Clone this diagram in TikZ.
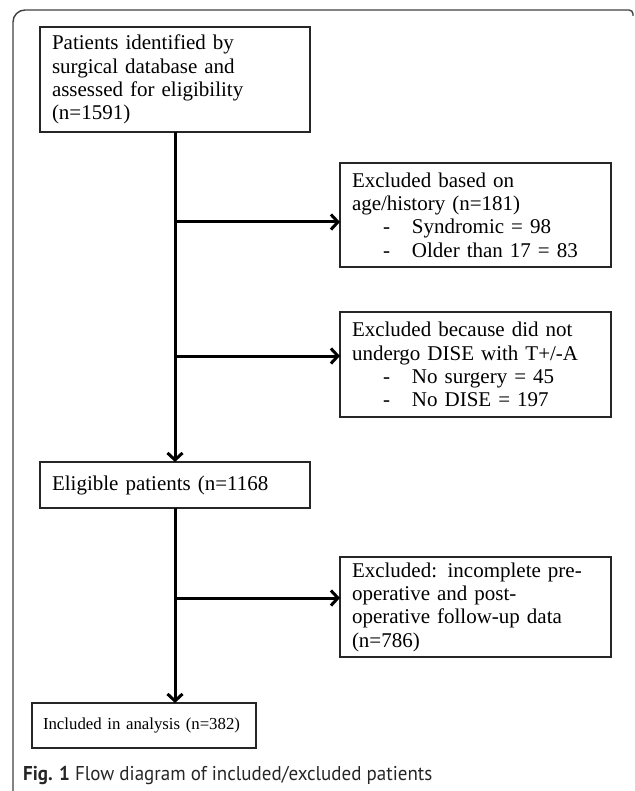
\documentclass[tikz,border=0pt]{standalone}
\usepackage{fontspec}
\setmainfont{Liberation Serif}
\newfontfamily\capfont[FakeStretch=0.95]{PT Sans}
\usetikzlibrary{arrows.meta}
\newcommand\bul[1]{\makebox[60pt][r]{-\hspace{22pt}}#1}
\begin{document}
\begin{tikzpicture}[x=1pt,y=-1pt,
  box/.style={draw=black!85, line width=1.4pt, anchor=north west, inner xsep=12pt,
    inner ysep=0pt, outer sep=0pt, align=left, font=\fontsize{21}{23.3}\selectfont},
  flow/.style={line width=3pt, -{Straight Barb[length=7pt,width=15pt]}},
  frame/.style={draw=black!75, line width=1.4pt}]
\useasboundingbox (0,0) rectangle (634,791);
\draw[frame] (13,791) [rounded corners=12pt] -- (13,10) [rounded corners=4pt] -- (633,10) -- (633,16);

\node[box, text width=246pt, minimum height=105pt] (b1) at (40,27)
  {Patients identified by\\ surgical database and\\ assessed for eligibility\\ (n=1591)};
\node[box, text width=247pt, minimum height=104pt] (b2) at (340,163)
  {Excluded based on\\ age/history (n=181)\\ \bul{Syndromic = 98}\\ \bul{Older than 17 = 83}};
\node[box, text width=247pt, minimum height=105pt] (b3) at (340,312)
  {Excluded because did not\\ undergo DISE with T+/-A\\ \bul{No surgery = 45}\\ \bul{No DISE = 197}};
\node[box, text width=246pt, minimum height=46pt] (b4) at (40,462)
  {Eligible patients (n=1168};
\node[box, text width=247pt, minimum height=100pt] (b5) at (340,557)
  {Excluded: incomplete pre-\\ operative and post-\\ operative follow-up data\\ (n=786)};
\node[box, inner xsep=11pt, text width=202pt, minimum height=45pt,
  font=\fontsize{16.8}{20}\selectfont] (b6) at (32,703)
  {\mbox{Included in analysis (n=382)}};

\coordinate (j1) at (175,222);
\coordinate (j2) at (175,356);
\coordinate (j3) at (175,598);
\draw[flow] (b1.south) -- (b4.north);
\draw[flow] (j1) -- (j1 -| b2.west);
\draw[flow] (j2) -- (j2 -| b3.west);
\draw[flow] (b4.south) -- (b4.south |- b6.north);
\draw[flow] (j3) -- (j3 -| b5.west);

\node[anchor=west, inner sep=0pt, text=black!85, font=\capfont\fontsize{20}{22}\selectfont] (cap) at (23,775)
  {\textbf{Fig. 1} Flow diagram of included/excluded patients};
\end{tikzpicture}
\end{document}
